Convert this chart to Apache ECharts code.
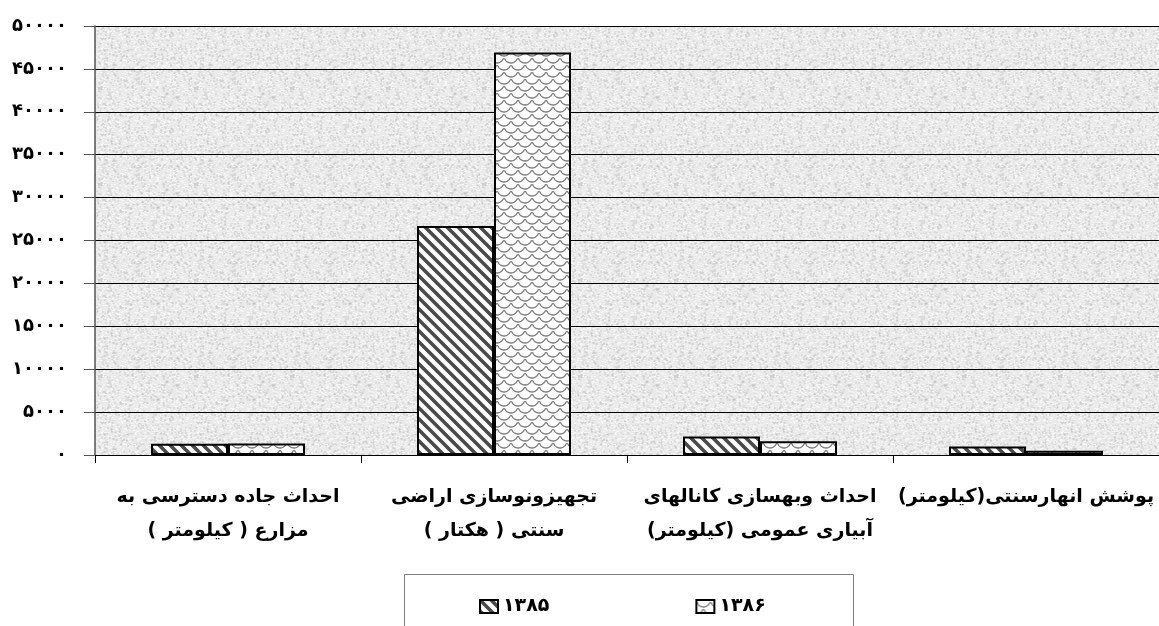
<!DOCTYPE html>
<html>
<head>
<meta charset="utf-8">
<script src="https://cdn.jsdelivr.net/npm/echarts@6/dist/echarts.min.js"></script>
<style>html,body{margin:0;padding:0;background:#fff}#c{width:1159px;height:626px}</style>
</head>
<body>
<div id="c"></div>
<script>
// ---- data ----
const categories = [
  'احداث جاده دسترسی به\nمزارع ( کیلومتر )',
  'تجهیزونوسازی اراضی\nسنتی ( هکتار )',
  'احداث وبهسازی کانالهای\nآبیاری عمومی (کیلومتر)',
  'پوشش انهارسنتی(کیلومتر)'
];
const seriesNames = ['۱۳۸۵', '۱۳۸۶'];
const values1385 = [1300, 26700, 2150, 1000];
const values1386 = [1350, 46900, 1600, 500];
const yTickLabels = ['۰', '۵۰۰۰', '۱۰۰۰۰', '۱۵۰۰۰', '۲۰۰۰۰', '۲۵۰۰۰', '۳۰۰۰۰', '۳۵۰۰۰', '۴۰۰۰۰', '۴۵۰۰۰', '۵۰۰۰۰'];

// ---- patterns ----
function bgPattern() {
  const s = 96, c = document.createElement('canvas');
  c.width = s; c.height = s;
  const g = c.getContext('2d');
  g.fillStyle = '#eaeaea'; g.fillRect(0, 0, s, s);
  for (let y = 0; y < s; y++) for (let x = 0; x < s; x++) {
    const h = (((x * 73856093) ^ (y * 19349663) ^ ((x + 7) * (y + 3) * 83492791)) >>> 0) % 1000;
    if (h < 80) { g.fillStyle = 'rgba(175,175,175,0.25)'; g.fillRect(x, y, 2, 2); }
    else if (h > 880) { g.fillStyle = 'rgba(255,255,255,0.5)'; g.fillRect(x, y, 2, 1); }
  }
  return { image: c, repeat: 'repeat' };
}
function hatchPattern() {
  const s = 11, c = document.createElement('canvas');
  c.width = s; c.height = s;
  const g = c.getContext('2d');
  g.fillStyle = '#ffffff'; g.fillRect(0, 0, s, s);
  g.strokeStyle = '#4a4a4a'; g.lineWidth = 3.6;
  g.beginPath();
  g.moveTo(-s, -s); g.lineTo(2 * s, 2 * s);
  g.moveTo(-s, 0); g.lineTo(s, 2 * s);
  g.moveTo(0, -s); g.lineTo(2 * s, s);
  g.stroke();
  return { image: c, repeat: 'repeat' };
}
function scalePattern() {
  const w = 14, h = 14, c = document.createElement('canvas');
  c.width = w; c.height = h;
  const g = c.getContext('2d');
  g.fillStyle = '#ffffff'; g.fillRect(0, 0, w, h);
  g.strokeStyle = '#7a7a7a'; g.lineWidth = 1.3;
  const arcs = [[7, 0], [0, 7], [14, 7], [7, 14], [0, -7], [14, -7]];
  arcs.forEach(([x, y]) => { g.beginPath(); g.arc(x, y, 7, 0.1 * Math.PI, 0.9 * Math.PI); g.stroke(); });
  return { image: c, repeat: 'repeat' };
}
function rtl(s) { return s.split('\n').map(l => '\u200F' + l + '\u200F').join('\n'); }

const FONT = 'DejaVu Sans';
const chart = echarts.init(document.getElementById('c'), null, { renderer: 'canvas' });
chart.setOption({
  animation: false,
  textStyle: { fontFamily: FONT },
  grid: { left: 95, top: 26, right: -3, bottom: 171, show: true, backgroundColor: bgPattern(), borderWidth: 0 },
  graphic: [{
    type: 'rect', left: 404, top: 574, z: -1,
    shape: { width: 449, height: 70 },
    style: { fill: '#fff', stroke: '#808080', lineWidth: 1 }
  }],
  legend: {
    left: 474, top: 592, itemWidth: 18, itemHeight: 13, itemGap: 146,
    icon: 'rect',
    textStyle: { fontFamily: FONT, fontWeight: 'bold', fontSize: 19, color: '#000' },
    data: seriesNames
  },
  xAxis: {
    type: 'category', data: categories,
    axisLine: { lineStyle: { color: '#000', width: 1 } },
    axisTick: { show: true, length: 8, interval: 0, lineStyle: { color: '#000' } },
    axisLabel: {
      interval: 0, margin: 25, lineHeight: 34, color: '#000',
      fontFamily: FONT, fontWeight: 'bold', fontSize: 19,
      formatter: v => rtl(v)
    },
    splitLine: { show: false }
  },
  yAxis: {
    type: 'value', min: 0, max: 50000, interval: 5000,
    axisLine: { show: true, lineStyle: { color: '#555', width: 1.5 } },
    axisTick: { show: true, length: 11, lineStyle: { color: '#555' } },
    axisLabel: {
      margin: 28, color: '#000', fontFamily: FONT, fontWeight: 'bold', fontSize: 18,
      formatter: v => yTickLabels[Math.round(v / 5000)]
    },
    splitLine: { show: true, lineStyle: { color: '#000', width: 1 } }
  },
  series: [
    {
      name: seriesNames[0], type: 'bar', data: values1385, barWidth: 77, barGap: '0%',
      itemStyle: { color: hatchPattern(), borderColor: '#000', borderWidth: 2 }
    },
    {
      name: seriesNames[1], type: 'bar', data: values1386, barWidth: 77, barGap: '0%',
      itemStyle: { color: scalePattern(), borderColor: '#000', borderWidth: 2 }
    }
  ]
});
</script>
</body>
</html>
